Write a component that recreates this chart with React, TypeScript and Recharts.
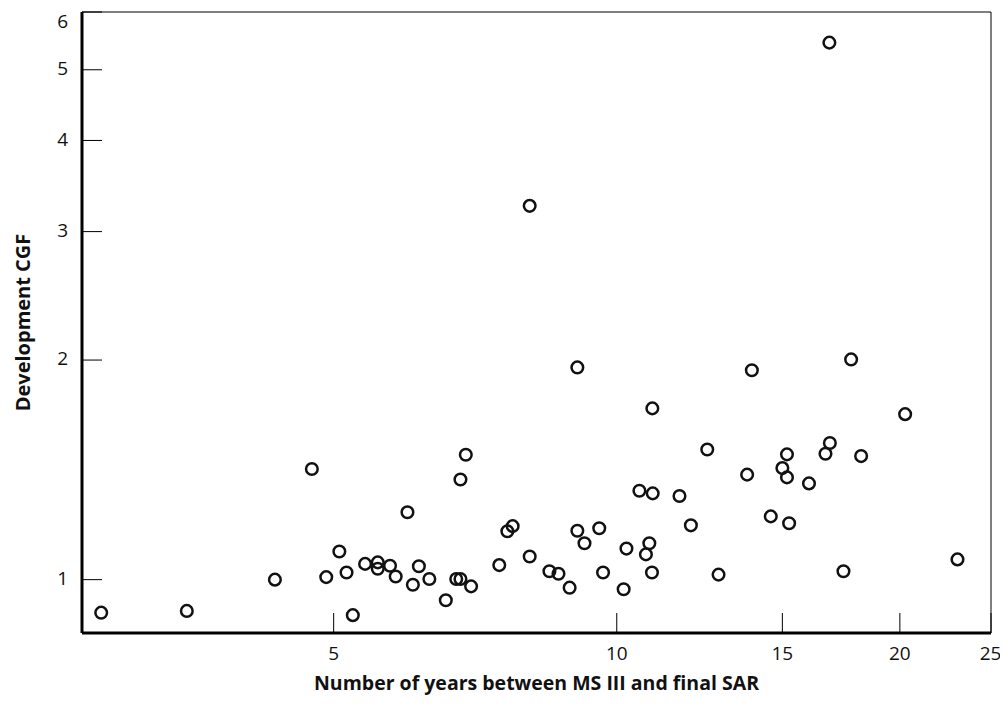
import { ScatterChart, Scatter, XAxis, YAxis, ReferenceLine, Label } from 'recharts';

// years between MS III and final SAR, one entry per program
const yearsBetween = [
  2.83, 3.49, 4.33, 4.74, 4.91, 5.07, 5.16, 5.24, 5.4, 5.57, 5.57, 5.74, 5.82, 5.99, 6.07, 6.16,
  6.32, 6.58, 6.75, 6.82, 6.82, 6.91, 7.0, 7.5, 7.65, 7.75, 8.08, 8.08, 8.48, 8.67, 8.91, 9.08,
  9.08, 9.24, 9.58, 9.67, 10.17, 10.24, 10.57, 10.74, 10.83, 10.9, 10.92, 10.91, 11.66, 11.99,
  12.48, 12.83, 13.76, 13.92, 14.58, 15.0, 15.17, 15.17, 15.25, 16.01, 16.67, 16.85, 16.83,
  17.42, 17.75, 18.19, 20.26, 23.03,
];

// development cost growth factor, same order
const devCgf = [
  0.901, 0.906, 1.0, 1.418, 1.008, 1.093, 1.023, 0.894, 1.051, 1.056, 1.035, 1.045, 1.01, 1.237,
  0.984, 1.043, 1.002, 0.937, 1.002, 1.002, 1.372, 1.483, 0.979, 1.047, 1.165, 1.184, 1.076,
  3.254, 1.027, 1.019, 0.975, 1.167, 1.954, 1.122, 1.176, 1.023, 0.97, 1.103, 1.324, 1.083,
  1.122, 1.023, 1.313, 1.717, 1.302, 1.187, 1.508, 1.016, 1.393, 1.937, 1.221, 1.422, 1.485,
  1.381, 1.195, 1.355, 1.488, 1.539, 5.447, 1.027, 2.004, 1.477, 1.686, 1.066,
];

const xTicks = [5, 10, 15, 20, 25];
const yTicks = [1, 2, 3, 4, 5, 6];

const data = yearsBetween.map((years, i) => ({ years, cgf: devCgf[i] }));

const font = '"Open Sans", sans-serif';

function OpenCircle(props: any) {
  return <circle cx={props.cx} cy={props.cy} r={5.8} fill="none" stroke="#111" strokeWidth={2.5} />;
}

function YTick({ x, y, payload }: any) {
  // the top label sits below its line so it is not cut off
  const shift = payload.value === 6 ? 4 : -1.5;
  return (
    <text x={x} y={y + shift} dy="0.355em" textAnchor="end" fontSize={19} fontFamily={font} fill="#111">
      {payload.value}
    </text>
  );
}

export default function App() {
  return (
    <ScatterChart width={992} height={694} margin={{ top: 4, right: 9, bottom: 0, left: 0 }}>
      <XAxis
        type="number"
        dataKey="years"
        scale="log"
        domain={[2.7, 25]}
        ticks={xTicks}
        allowDataOverflow
        height={69}
        axisLine={{ stroke: '#000', strokeWidth: 3 }}
        tickLine={{ stroke: '#000', strokeWidth: 1 }}
        tickSize={-20}
        tickMargin={34}
        tick={{ fontSize: 19, fontFamily: font, fill: '#111' }}
      >
        <Label
          value="Number of years between MS III and final SAR"
          position="insideBottom"
          offset={12}
          style={{ fontSize: 19.5, fontWeight: 700, fontFamily: font, fill: '#111' }}
        />
      </XAxis>
      <YAxis
        type="number"
        dataKey="cgf"
        scale="log"
        domain={[0.845, 6]}
        ticks={yTicks}
        allowDataOverflow
        width={74}
        axisLine={{ stroke: '#000', strokeWidth: 3 }}
        tickLine={{ stroke: '#000', strokeWidth: 1 }}
        tickSize={-20}
        tickMargin={34}
        tick={<YTick />}
      >
        <Label
          value="Development CGF"
          angle={-90}
          position="insideLeft"
          offset={15}
          style={{ textAnchor: 'middle', fontSize: 20, fontWeight: 700, fontFamily: font, fill: '#111' }}
        />
      </YAxis>
      <ReferenceLine y={6} stroke="#000" strokeWidth={1} />
      <ReferenceLine x={25} stroke="#000" strokeWidth={1} />
      <Scatter data={data} shape={<OpenCircle />} isAnimationActive={false} />
    </ScatterChart>
  );
}
